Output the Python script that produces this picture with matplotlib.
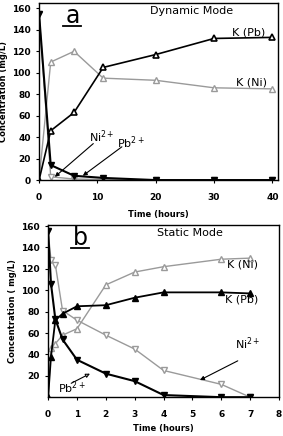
from matplotlib import pyplot as plt
import numpy as np

# dynamic mode (panel a)
t_dyn = [0, 2, 6, 11, 20, 30, 40]
pb_dyn = [155, 14, 4, 2, 0, 0, 0]
ni_dyn = [155, 3, 1, 0.5, 0, 0, 0]
kpb_dyn = [0, 46, 63, 105, 117, 132, 133]
kni_dyn = [0, 110, 120, 95, 93, 86, 85]

# static mode (panel b)
t_sta = [0, 0.1, 0.25, 0.5, 1, 2, 3, 4, 6, 7]
pb_sta = [155, 106, 73, 54, 35, 22, 15, 2, 0, 0]
ni_sta = [155, 128, 124, 81, 72, 58, 45, 25, 12, 0]
kpb_sta = [0, 38, 72, 78, 85, 86, 93, 98, 98, 97]
kni_sta = [0, 46, 50, 58, 64, 105, 117, 122, 129, 130]

GRAY = '#9a9a9a'
plt.rcParams['font.family'] = 'DejaVu Sans'

fig = plt.figure(figsize=(2.83, 4.36), dpi=100)
ax1 = fig.add_axes([0.138, 0.587, 0.845, 0.406])
ax2 = fig.add_axes([0.170, 0.089, 0.816, 0.395])

ms = 4.5
arr = dict(arrowstyle='-|>', color='k', lw=0.8, shrinkA=0, shrinkB=0, mutation_scale=6)

## PANEL A
ax1.plot(t_dyn, kni_dyn, color=GRAY, lw=1, marker='^', ms=ms, mfc='white', mec=GRAY)
ax1.plot(t_dyn, ni_dyn, color=GRAY, lw=1, marker='v', ms=ms, mfc='white', mec=GRAY)
ax1.plot(t_dyn, kpb_dyn, color='k', lw=1.2, marker='^', ms=ms, mfc='white', mec='k', mew=1.2)
ax1.plot(t_dyn, pb_dyn, color='k', lw=1.5, marker='v', ms=ms, mfc='k', mec='k')
ax1.set_xlim(0, 41)
ax1.set_ylim(0, 165)
ax1.set_xticks(range(0, 41, 10))
ax1.set_yticks(range(0, 161, 20))
ax1.set_xlabel('Time (hours)', fontsize=6, fontweight='bold', labelpad=6)
ax1.set_ylabel('Concentration (mg/L)', fontsize=6, fontweight='bold', labelpad=3)
ax1.text(0.14, 0.925, 'a', transform=ax1.transAxes, fontsize=17, ha='center', va='center')
ax1.plot([0.10, 0.175], [0.872, 0.872], transform=ax1.transAxes, color='k', lw=1.3)
ax1.text(0.636, 0.955, 'Dynamic Mode', transform=ax1.transAxes, fontsize=8, ha='center', va='center')
ax1.text(0.875, 0.836, 'K (Pb)', transform=ax1.transAxes, fontsize=8, ha='center', va='center')
ax1.text(0.89, 0.554, 'K (Ni)', transform=ax1.transAxes, fontsize=8, ha='center', va='center')
ax1.text(10.8, 40, 'Ni$^{2+}$', fontsize=8, ha='center', va='center')
ax1.annotate('', xy=(2.7, 3), xytext=(9.3, 34), arrowprops=arr)
ax1.text(15.8, 35, 'Pb$^{2+}$', fontsize=8, ha='center', va='center')
ax1.annotate('', xy=(7.5, 4), xytext=(14.2, 31), arrowprops=arr)

## PANEL B
ax2.plot(t_sta, kni_sta, color=GRAY, lw=1, marker='^', ms=ms, mfc='white', mec=GRAY)
ax2.plot(t_sta, ni_sta, color=GRAY, lw=1, marker='v', ms=ms, mfc='white', mec=GRAY)
ax2.plot(t_sta, kpb_sta, color='k', lw=1.3, marker='^', ms=ms, mfc='k', mec='k')
ax2.plot(t_sta, pb_sta, color='k', lw=1.5, marker='v', ms=ms, mfc='k', mec='k')
ax2.set_xlim(0, 8)
ax2.set_ylim(0, 161)
ax2.set_xticks(range(0, 9))
ax2.set_yticks(range(20, 161, 20))
ax2.set_xlabel('Time (hours)', fontsize=6, fontweight='bold', labelpad=4)
ax2.set_ylabel('Concentration ( mg/L)', fontsize=6, fontweight='bold', labelpad=3)
ax2.text(0.14, 0.925, 'b', transform=ax2.transAxes, fontsize=17, ha='center', va='center')
ax2.plot([0.10, 0.175], [0.865, 0.865], transform=ax2.transAxes, color='k', lw=1.3)
ax2.text(0.615, 0.955, 'Static Mode', transform=ax2.transAxes, fontsize=8, ha='center', va='center')
ax2.text(0.84, 0.77, 'K (Ni)', transform=ax2.transAxes, fontsize=8, ha='center', va='center')
ax2.text(0.84, 0.57, 'K (Pb)', transform=ax2.transAxes, fontsize=8, ha='center', va='center')
ax2.text(0.866, 0.31, 'Ni$^{2+}$', transform=ax2.transAxes, fontsize=8, ha='center', va='center')
ax2.annotate('', xy=(5.26, 16), xytext=(6.57, 34), arrowprops=arr)
ax2.text(0.105, 0.055, 'Pb$^{2+}$', transform=ax2.transAxes, fontsize=8, ha='center', va='center')
ax2.annotate('', xy=(1.45, 22), xytext=(0.8, 13),
             arrowprops=dict(arr, fc='white'))

for ax in (ax1, ax2):
    ax.tick_params(labelsize=6.5, length=2, width=0.8)
    ax.tick_params(axis='x', pad=7)
    ax.tick_params(axis='y', pad=4)
    for lab in ax.get_xticklabels() + ax.get_yticklabels():
        lab.set_fontweight('bold')
    for sp in ax.spines.values():
        sp.set_linewidth(1)

fig.savefig('out.png', dpi=100)
